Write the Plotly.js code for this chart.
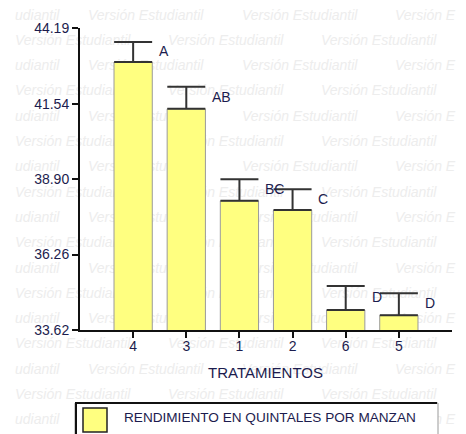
<!DOCTYPE html>
<html>
<head>
<meta charset="utf-8">
<script src="https://cdn.plot.ly/plotly-3.0.1.min.js"></script>
<style>html,body{margin:0;padding:0;background:#fff}#chart{width:466px;height:434px}</style>
</head>
<body>
<div id="chart"></div>
<script>
// ---- data ----
var treatments = ['4', '3', '1', '2', '6', '5'];
var yieldMeans = [43.00, 41.36, 38.14, 37.82, 34.32, 34.14];
var yieldErrors = [0.70, 0.77, 0.76, 0.73, 0.84, 0.77];
var groupLetters = ['A', 'AB', 'BC', 'C', 'D', 'D'];
var yTickValues = [33.62, 36.26, 38.90, 41.54, 44.19];
var yTickLabels = ['33.62', '36.26', '38.90', '41.54', '44.19'];
var seriesName = 'RENDIMIENTO EN QUINTALES POR MANZAN';
var xTitle = 'TRATAMIENTOS';
var watermarkText = 'Versión Estudiantil';
var watermarkLeftPart = 'udiantil';
var watermarkRightPart = 'Versión E';

var W = 466, H = 434;
function px(x) { return x / W; }
function py(y) { return 1 - y / H; }

// background watermark (decoration, drawn in a full-page helper subplot below the chart)
var wmX = [], wmY = [], wmT = [];
for (var r = 0; r < 17; r++) {
  var yy = 16 + r * 25.3;
  if (r % 2 === 0) {
    wmX.push(15, 88, 242, 395);
    wmT.push(watermarkLeftPart, watermarkText, watermarkText, watermarkRightPart);
    wmY.push(yy, yy, yy, yy);
  } else {
    wmX.push(15, 168, 321);
    wmT.push(watermarkText, watermarkText, watermarkText);
    wmY.push(yy, yy, yy);
  }
}

var traces = [
  {
    type: 'scatter', mode: 'text', x: wmX, y: wmY, text: wmT,
    textposition: 'middle right', cliponaxis: false, hoverinfo: 'skip', showlegend: false,
    textfont: { family: 'Liberation Sans, Arial, sans-serif', size: 14, color: '#ededed', style: 'italic' },
    xaxis: 'x', yaxis: 'y'
  },
  {
    type: 'bar', x: treatments, y: yieldMeans, name: seriesName, width: 0.72,
    marker: { color: '#ffff80', line: { color: '#9a9a9a', width: 1 } },
    error_y: { type: 'data', array: yieldErrors, arrayminus: yieldMeans.map(function () { return 0; }),
               symmetric: false, visible: true, color: '#333333', thickness: 2, width: 19 },
    showlegend: false, hoverinfo: 'skip',
    xaxis: 'x2', yaxis: 'y2'
  }
];

var annotations = groupLetters.map(function (t, i) {
  return {
    xref: 'x2', yref: 'y2', x: i + 0.45, y: yieldMeans[i] + 0.55 * yieldErrors[i],
    text: t, showarrow: false, xanchor: 'left', yanchor: 'middle',
    font: { family: 'Liberation Sans, Arial, sans-serif', size: 14, color: '#1c1c4e' }
  };
});
annotations.push({
  xref: 'paper', yref: 'paper', x: px(265), y: py(372), text: xTitle, showarrow: false,
  xanchor: 'center', yanchor: 'middle',
  font: { family: 'Liberation Sans, Arial, sans-serif', size: 15, color: '#1c1c4e' }
});
annotations.push({
  xref: 'paper', yref: 'paper', x: px(122), y: py(417), text: seriesName, showarrow: false,
  xanchor: 'left', yanchor: 'middle',
  font: { family: 'Liberation Sans, Arial, sans-serif', size: 13.6, color: '#1c1c4e' }
});

var shapes = [
  { type: 'rect', xref: 'paper', yref: 'paper', x0: px(75), x1: px(438), y0: py(445), y1: py(403),
    line: { color: '#9a9a9a', width: 1 }, fillcolor: '#ffffff', layer: 'above' },
  { type: 'line', xref: 'paper', yref: 'paper', x0: px(75), x1: px(437), y0: py(403), y1: py(403),
    line: { color: '#111', width: 2 }, layer: 'above' },
  { type: 'line', xref: 'paper', yref: 'paper', x0: px(76), x1: px(76), y0: py(445), y1: py(403),
    line: { color: '#111', width: 2 }, layer: 'above' },
  { type: 'rect', xref: 'paper', yref: 'paper', x0: px(83), x1: px(107), y0: py(432), y1: py(408),
    line: { color: '#222', width: 1.5 }, fillcolor: '#ffff80', layer: 'above' }
];

var tickFont = { family: 'Liberation Sans, Arial, sans-serif', size: 14, color: '#1c1c4e' };

var layout = {
  width: W, height: H,
  margin: { l: 0, r: 0, t: 0, b: 0, pad: 0 },
  paper_bgcolor: '#ffffff', plot_bgcolor: 'rgba(0,0,0,0)',
  showlegend: false,
  xaxis: { domain: [0, 1], range: [0, W], visible: false, fixedrange: true },
  yaxis: { domain: [0, 1], range: [H, 0], visible: false, fixedrange: true },
  xaxis2: {
    domain: [px(80), px(452)], anchor: 'y2', type: 'category', range: [-1, 6],
    showline: true, linecolor: '#111', linewidth: 2, showgrid: false, zeroline: false,
    ticks: 'outside', ticklen: 6, tickwidth: 2, tickcolor: '#111', tickfont: tickFont,
    ticklabelstandoff: -4
  },
  yaxis2: {
    domain: [py(330), py(28)], anchor: 'x2', range: [yTickValues[0], yTickValues[yTickValues.length - 1]],
    tickmode: 'array', tickvals: yTickValues, ticktext: yTickLabels,
    showline: true, linecolor: '#111', linewidth: 2, showgrid: false, zeroline: false,
    ticks: 'outside', ticklen: 6, tickwidth: 2, tickcolor: '#111', tickfont: tickFont
  },
  annotations: annotations,
  shapes: shapes
};

Plotly.newPlot('chart', traces, layout, { staticPlot: true, displayModeBar: false });
</script>
</body>
</html>
